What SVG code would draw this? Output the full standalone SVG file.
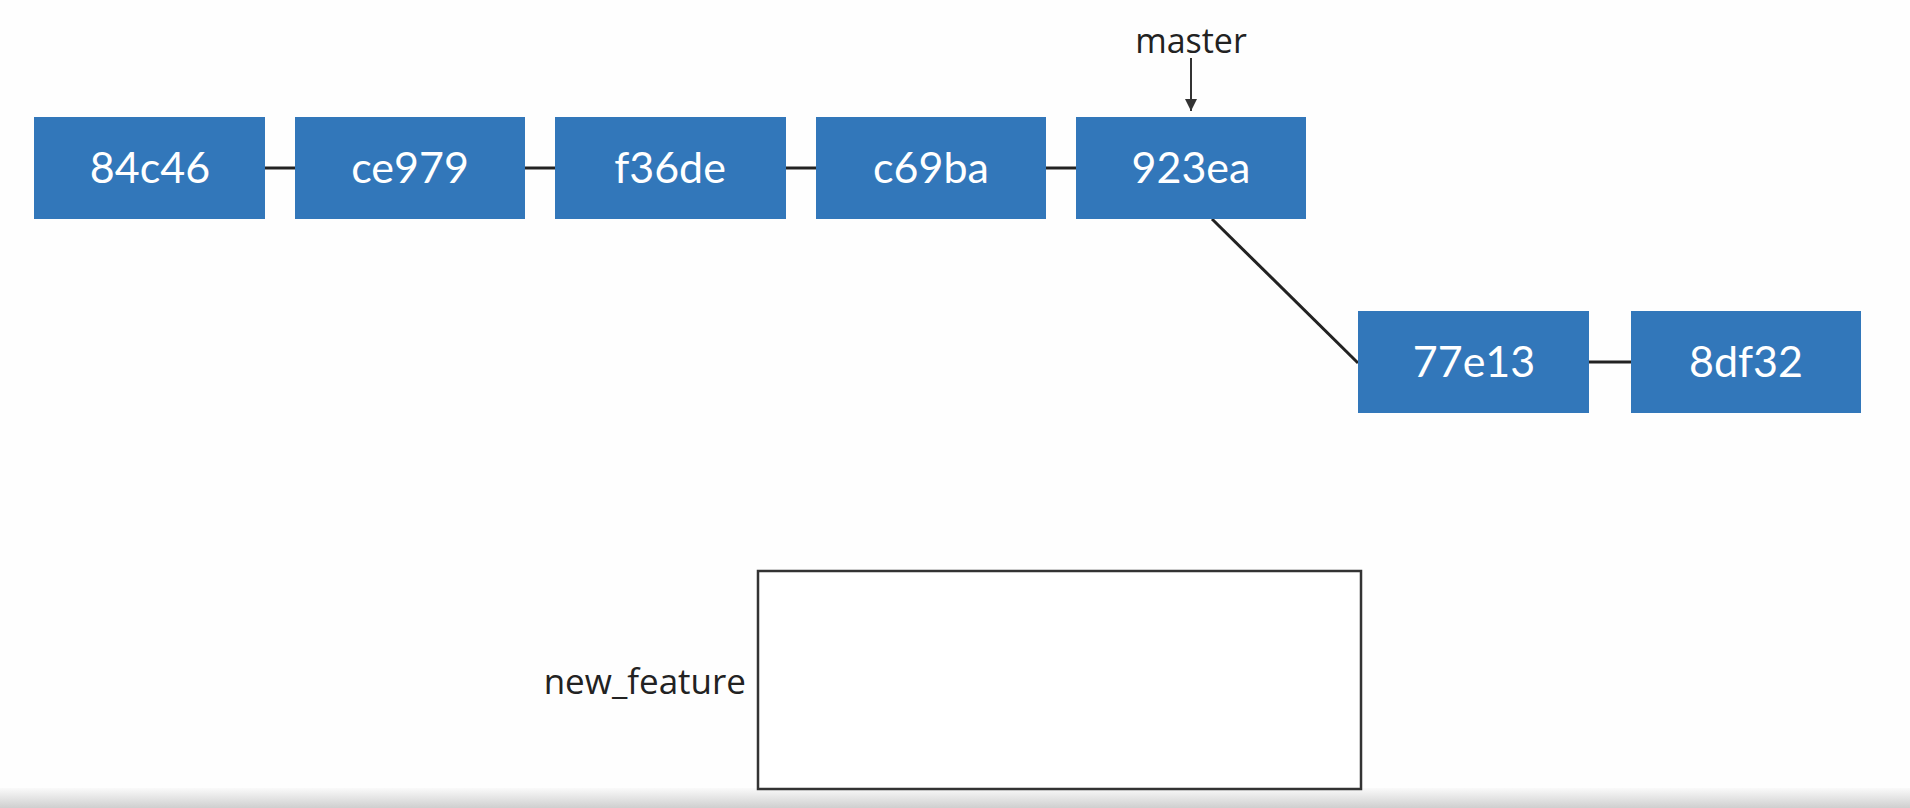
<svg xmlns="http://www.w3.org/2000/svg" width="1910" height="808" viewBox="0 0 1910 808">
<defs>
<linearGradient id="bar" x1="0" y1="0" x2="0" y2="1">
<stop offset="0" stop-color="#fafafa"/>
<stop offset="1" stop-color="#cfcfcf"/>
</linearGradient>
<marker id="arr" markerWidth="12" markerHeight="12" refX="12" refY="6" orient="auto" markerUnits="userSpaceOnUse" viewBox="0 0 12 12">
<path d="M0,0 L12,6 L0,12 Z" fill="#333"/>
</marker>
</defs>
<style>
.commit rect{fill:#3277BA;}
.commit text{fill:#fff;font-family:Lato,"Open Sans",sans-serif;font-size:43px;text-anchor:middle;}
.conn line{stroke:#222;stroke-width:3;}
.lbl{fill:#222;font-family:"Open Sans","Noto Sans",sans-serif;font-size:34px;}
</style>
<rect x="0" y="0" width="1910" height="808" fill="#fefefe"/>
<rect x="0" y="788" width="1910" height="20" fill="url(#bar)"/>
<g id="connectors" class="conn">
<line x1="265" y1="168" x2="295" y2="168"/>
<line x1="525" y1="168" x2="555" y2="168"/>
<line x1="786" y1="168" x2="816" y2="168"/>
<line x1="1046" y1="168" x2="1076" y2="168"/>
<line x1="1212" y1="219" x2="1358" y2="363"/>
<line x1="1589" y1="362" x2="1631" y2="362"/>
<line x1="1191" y1="58" x2="1191" y2="111" style="stroke:#333;stroke-width:2" marker-end="url(#arr)"/>
</g>
<g id="c84c46" class="commit"><rect x="34" y="117" width="231" height="102"/><text x="150" y="183">84c46</text></g>
<g id="cce979" class="commit"><rect x="295" y="117" width="230" height="102"/><text x="410" y="183">ce979</text></g>
<g id="cf36de" class="commit"><rect x="555" y="117" width="231" height="102"/><text x="670" y="183">f36de</text></g>
<g id="cc69ba" class="commit"><rect x="816" y="117" width="230" height="102"/><text x="931" y="183">c69ba</text></g>
<g id="c923ea" class="commit"><rect x="1076" y="117" width="230" height="102"/><text x="1191" y="183">923ea</text></g>
<g id="c77e13" class="commit"><rect x="1358" y="311" width="231" height="102"/><text x="1474" y="377">77e13</text></g>
<g id="c8df32" class="commit"><rect x="1631" y="311" width="230" height="102"/><text x="1746" y="377">8df32</text></g>
<g id="master"><text class="lbl" x="1191" y="53" text-anchor="middle">master</text></g>
<g id="new_feature">
<rect x="758" y="571" width="603" height="218" fill="#fff" stroke="#333" stroke-width="2.5"/>
<text class="lbl" x="746" y="694" text-anchor="end" style="font-size:35px">new_feature</text>
</g>
</svg>
